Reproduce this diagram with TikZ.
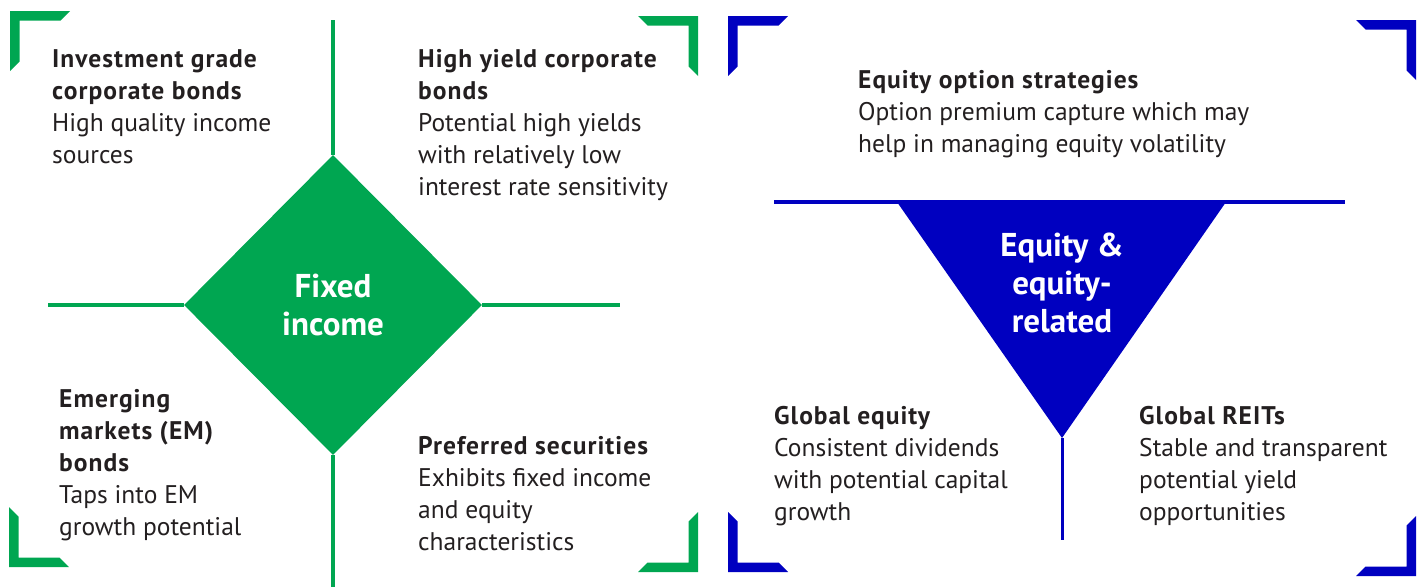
\documentclass[tikz,border=0pt]{standalone}
\usepackage{fontspec}
\setmainfont{PT Sans}
\usetikzlibrary{shapes.geometric}

\definecolor{fiGreen}{RGB}{0,166,81}
\definecolor{eqBlue}{RGB}{0,0,192}
\definecolor{txtGray}{RGB}{35,31,32}
\newcommand{\hd}[1]{{\bfseries\addfontfeature{LetterSpace=4}#1}}

\tikzset{
  blurb/.style={anchor=north west,inner sep=0pt,align=left,text=txtGray,
    font=\fontsize{25.5}{32}\selectfont},
  hub/.style={inner sep=0pt,align=center,text=white,
    font=\fontsize{33}{38}\selectfont\bfseries},
  fiLine/.style={draw=fiGreen,line width=3.5pt},
  eqLine/.style={draw=eqBlue,line width=3.5pt}
}

\begin{document}
\begin{tikzpicture}[x=1pt,y=-1pt]
          \useasboundingbox (0,0) rectangle (1423,587);
          % corner brackets
          \foreach \cx/\cy/\sx/\sy/\col in {10/11/1/1/fiGreen,698/16/-1/1/fiGreen,
              9/567/1/-1/fiGreen,698/572/-1/-1/fiGreen,728/16/1/1/eqBlue,
              1416/20/-1/1/eqBlue,728/572/1/-1/eqBlue,1416/576/-1/-1/eqBlue}
            \fill[fill=\col,shift={(\cx,\cy)},xscale=\sx,yscale=\sy]
              (0,0) -- (60,0) -- (50.5,9.5) -- (9.5,9.5) -- (9.5,50.5) -- (0,60) -- cycle;

          % fixed income
          \node[diamond,fill=fiGreen,minimum width=298pt,minimum height=300pt,hub] (fixed) at (333,305) {Fixed\\income};
          \coordinate (fiTop) at (333,20);
          \coordinate (fiBot) at (333,587);
          \coordinate (fiLeft) at (48,305);
          \coordinate (fiRight) at (620,305);
          \path[fiLine] (fiTop) -- (fixed.north);
          \path[fiLine] (fixed.south) -- (fiBot);
          \path[fiLine] (fiLeft) -- (fixed.west);
          \path[fiLine] (fixed.east) -- (fiRight);

          \node[blurb] (igBonds) at (52,49) {\hd{Investment grade}\\\hd{corporate bonds}\\High quality income\\sources};
          \node[blurb] (hyBonds) at (418,49) {\hd{High yield corporate}\\\hd{bonds}\\Potential high yields\\with relatively low\\interest rate sensitivity};
          \node[blurb] (emBonds) at (59,389) {\hd{Emerging}\\\hd{markets (EM)}\\\hd{bonds}\\Taps into EM\\growth potential};
          \node[blurb] (prefSec) at (418,436) {\hd{Preferred securities}\\Exhibits fixed income\\and equity\\characteristics};

          % equity
          \coordinate (eqA) at (897,202);
          \coordinate (eqB) at (1226,202);
          \coordinate (eqTip) at (1062,438);
          \coordinate (eqLeft) at (774,202);
          \coordinate (eqRight) at (1345,202);
          \coordinate (eqBot) at (1062,540);
          \fill[eqBlue] (eqA) -- (eqB) -- (eqTip) -- cycle;
          \path[eqLine] (eqLeft) -- (eqRight);
          \path[eqLine,line width=3pt] (eqTip) -- (eqBot);
          \node[hub] (equity) at (1062,283) {Equity \&\\equity-\\related};

          \node[blurb] (eqOption) at (858,70) {\hd{Equity option strategies}\\Option premium capture which may\\help in managing equity volatility};
          \node[blurb] (glEquity) at (774,406) {\hd{Global equity}\\Consistent dividends\\with potential capital\\growth};
          \node[blurb] (glReits) at (1139,406) {\hd{Global REITs}\\Stable and transparent\\potential yield\\opportunities};
        \end{tikzpicture}
\end{document}
